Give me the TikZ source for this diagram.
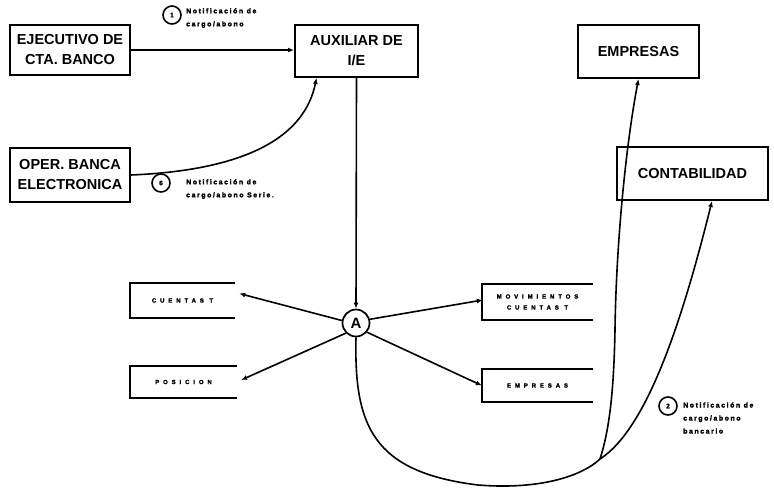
\documentclass[tikz,border=0pt]{standalone}
\usepackage{fontspec}
\setmainfont{Liberation Sans}
\newfontfamily\notefont[LetterSpace=22, FakeBold=2]{Liberation Sans Bold}
\newfontfamily\capsfont[LetterSpace=65, FakeBold=2]{Liberation Sans Bold}
\usetikzlibrary{arrows.meta}

\tikzset{
  bigbox/.style={draw, line width=2pt, align=center, inner sep=0pt,
    font=\bfseries\fontsize{14.5}{20}\selectfont},
  lowbox/.style={inner sep=0pt, align=center,
    font=\capsfont\fontsize{6}{11}\selectfont},
  openside/.style={line width=1.6pt},
  conn/.style={line width=1.6pt, -{Latex[length=6pt,width=5pt]}},
  plain/.style={line width=1.6pt},
  numcirc/.style={circle, draw, line width=1.6pt, minimum size=18pt, inner sep=0pt,
    font=\notefont\fontsize{6.5}{6.5}\selectfont},
  notetext/.style={anchor=west, align=left, inner sep=0pt,
    font=\notefont\fontsize{7}{13}\selectfont},
  hub/.style={circle, draw, line width=1.7pt, minimum size=27pt, inner sep=0pt,
    font=\bfseries\fontsize{15}{15}\selectfont}
}

\begin{document}
\begin{tikzpicture}[x=1pt, y=-1pt]
\useasboundingbox (0,0) rectangle (774,488);
\fill[white] (0,0) rectangle (774,488);

% main boxes
\node[bigbox, minimum width=120pt, minimum height=50pt] (ej) at (70,50) {EJECUTIVO DE\\CTA. BANCO};
\node[bigbox, minimum width=120pt, minimum height=54pt] (op) at (70,175) {OPER. BANCA\\ELECTRONICA};
\node[bigbox, minimum width=123pt, minimum height=52pt] (aux) at (356.5,51) {AUXILIAR DE\\I/E};
\node[bigbox, minimum width=121pt, minimum height=53pt] (emp) at (638.5,51.5) {EMPRESAS};
\node[bigbox, minimum width=151pt, minimum height=53pt] (cont) at (692.5,173.5) {CONTABILIDAD};

% hub
\node[hub] (A) at (356,323) {A};

% output boxes, open on the right
\node[lowbox, minimum width=105pt, minimum height=35pt] (ct) at (182.5,300.5) {CUENTAS T};
\node[lowbox, minimum width=107pt, minimum height=32pt] (pos) at (183.5,382) {POSICION};
\node[lowbox, minimum width=111pt, minimum height=36pt] (mov) at (537.5,302) {MOVIMIENTOS\\CUENTAS T};
\node[lowbox, minimum width=111pt, minimum height=33pt] (emp2) at (537.5,385.5) {EMPRESAS};
\foreach \b in {ct,pos,mov,emp2}
  \draw[openside] (\b.north east) -- (\b.north west) -- (\b.south west) -- (\b.south east);

% numbered notes
\node[numcirc] (c1) at (172,15) {1};
\node[notetext] (n1) at (186,18) {Notificación de\\cargo/abono};
\node[numcirc] (c6) at (161,183) {6};
\node[notetext] (n6) at (186,189) {Notificación de\\cargo/abono Serie.};
\node[numcirc] (c2) at (668,406) {2};
\node[notetext] (n2) at (683,418) {Notificación de\\cargo/abono\\bancario};

% flows into the auxiliary
\draw[conn] (ej.east) -- (aux.west |- ej.east);
\draw[conn] (op.east) .. controls (250,170) and (305,135) .. ([xshift=-40pt]aux.south);
\draw[conn] (aux.south) -- (A.north);

% flows out of the hub
\draw[conn] (A.170) -- ([xshift=4pt, yshift=7pt]ct.east);
\draw[conn] (A.225) -- ([xshift=4pt, yshift=2pt]pos.east);
\draw[conn] (A.15) -- ([xshift=1pt, yshift=2pt]mov.west);
\draw[conn] (A.320) -- (emp2.west);

% return loop towards companies and accounting
\coordinate (J) at (600,459);
\draw[plain] (A.south) .. controls (354,425) and (372,472) .. (478,485)
  .. controls (540,490) and (582,476) .. (J);
\draw[conn] (J) .. controls (611,425) and (614,380) .. (615,330)
  .. controls (616,250) and (625,150) .. (emp.south);
\draw[conn] (J) .. controls (645,430) and (680,330) .. ([xshift=19.5pt]cont.south);
\end{tikzpicture}
\end{document}
